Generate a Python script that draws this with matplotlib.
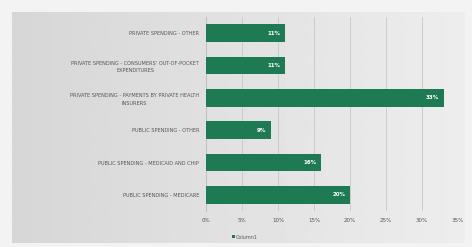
import matplotlib
matplotlib.use("Agg")
import matplotlib.pyplot as plt
import numpy as np

categories = [
    "PUBLIC SPENDING - MEDICARE",
    "PUBLIC SPENDING - MEDICAID AND CHIP",
    "PUBLIC SPENDING - OTHER",
    "PRIVATE SPENDING - PAYMENTS BY PRIVATE HEALTH\nINSURERS",
    "PRIVATE SPENDING - CONSUMERS' OUT-OF-POCKET\nEXPENDITURES",
    "PRIVATE SPENDING - OTHER",
]
values = [20, 16, 9, 33, 11, 11]
xticks = [0, 5, 10, 15, 20, 25, 30, 35]
series_name = "Column1"

W, H = 472, 247
fig = plt.figure(figsize=(W / 100, H / 100), dpi=100)
fig.patch.set_facecolor("#f3f3f3")

# gradient panel background
bg = fig.add_axes([12 / W, 1 - 243 / H, 453 / W, 231 / H], zorder=0)
grad = np.linspace(0.84, 0.93, 256)
img = np.tile(grad, (16, 1))
bg.imshow(img, aspect="auto", cmap="gray", vmin=0, vmax=1, extent=[0, 1, 0, 1])
bg.set_axis_off()

ax = fig.add_axes([206 / W, 1 - 211 / H, 252 / W, 194 / H], zorder=1)
ax.patch.set_alpha(0)
color = "#1d7a52"
y = np.arange(len(categories))
bars = ax.barh(y, values, height=0.55, color=color, label=series_name, zorder=3)
for yi, v in zip(y, values):
    ax.text(v - 0.6, yi, f"{v}%", color="white", fontsize=4, fontweight="bold",
            ha="right", va="center", zorder=4)

ax.set_xlim(0, 35)
ax.set_ylim(-0.5, len(categories) - 0.5)
ax.set_xticks(xticks)
ax.set_xticklabels([f"{t}%" for t in xticks], fontsize=4, color="#555555")
ax.set_yticks(y)
ax.set_yticklabels(categories, fontsize=3.6, color="#555555", linespacing=1.6)
for lbl in ax.get_yticklabels():
    lbl.set_multialignment("center")
ax.tick_params(axis="both", length=0, pad=5)
ax.grid(axis="x", color="#c8c8c8", linewidth=0.6, zorder=0)
for s in ["top", "right", "bottom"]:
    ax.spines[s].set_visible(False)
ax.spines["left"].set_color("#bfbfbf")
ax.spines["left"].set_linewidth(0.6)

leg = fig.legend(handles=[bars], labels=[series_name], loc="center",
                 bbox_to_anchor=(245 / W, 1 - 237 / H), fontsize=3.5,
                 frameon=False, handlelength=0.6, handleheight=0.6,
                 handletextpad=0.3)
for t in leg.get_texts():
    t.set_color("#555555")

fig.savefig("out.png", dpi=100, facecolor=fig.get_facecolor())
